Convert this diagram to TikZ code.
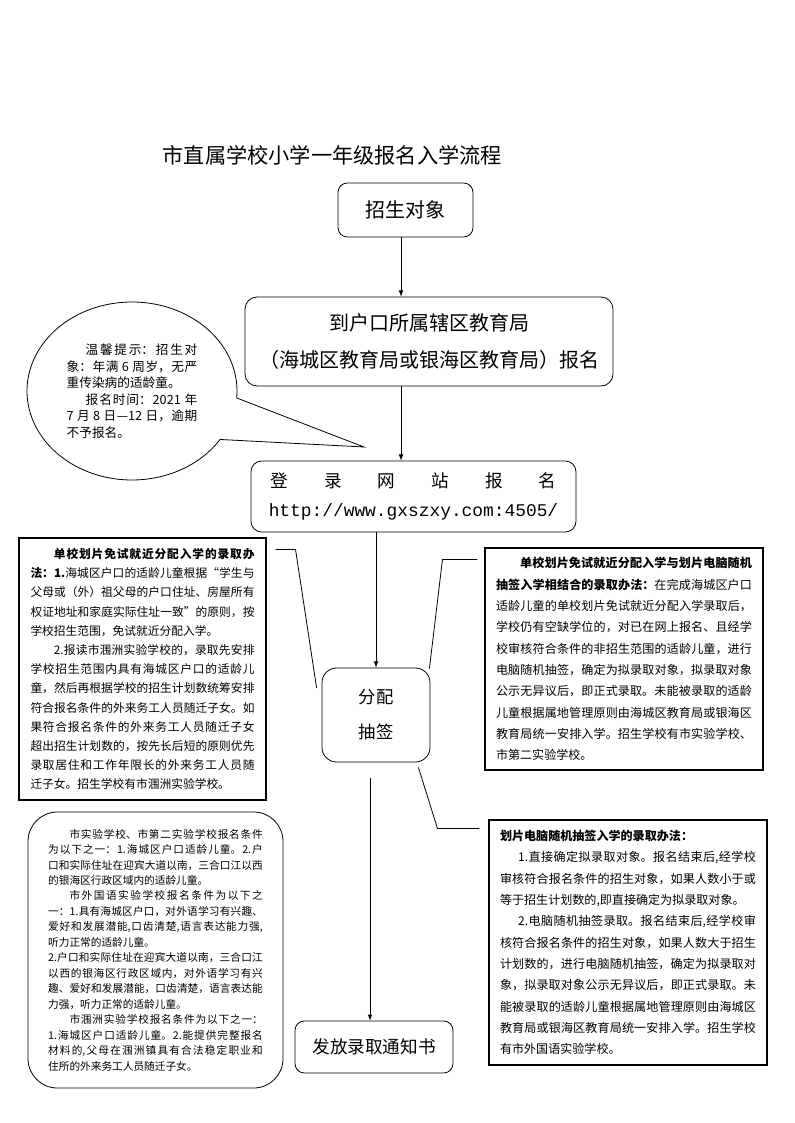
\documentclass[tikz,border=0pt]{standalone}
\usepackage{fontspec}
\setmainfont{Noto Sans CJK SC}
\newfontfamily\urlfont{Liberation Mono}
\usetikzlibrary{calc}
\XeTeXlinebreaklocale "zh"
\XeTeXlinebreakskip=0pt plus 1pt
\tolerance=10000
\hbadness=10000
\begin{document}
\begin{tikzpicture}[x=0.75bp,y=-0.75bp,
  flowbox/.style={draw,line width=.6pt,rounded corners=7bp,inner sep=0pt,align=center},
  notebox/.style={draw,line width=.8pt,inner sep=0pt,align=justify},
  flow/.style={-latex,line width=.6pt},
  link/.style={line width=.6pt}]
\fill[white] (0,0) rectangle (794,1123);
\useasboundingbox (0,0) rectangle (794,1123);

\node[anchor=west,font=\fontsize{15.9bp}{18bp}\selectfont] (title) at (158,155) {市直属学校小学一年级报名入学流程};

% flow boxes
\node[flowbox,minimum width=101.25bp,minimum height=40.5bp,font=\fontsize{15bp}{18bp}\selectfont] (zsdx) at (405.5,210) {招生对象};
\node[flowbox,rounded corners=9bp,minimum width=276bp,minimum height=66.75bp,font=\fontsize{15bp}{27.75bp}\selectfont] (hkbm) at (429,341.5) {到户口所属辖区教育局\\（海城区教育局或银海区教育局）报名};
\node[flowbox,rounded corners=8bp,minimum width=243.75bp,minimum height=53.25bp,font=\fontsize{13.2bp}{21.75bp}\selectfont] (wzbm) at (413.5,496.5) {\makebox[214bp][s]{登\hfill 录\hfill 网\hfill 站\hfill 报\hfill 名}\\{\urlfont\fontsize{13.4bp}{21.75bp}\selectfont http://www.gxszxy.com:4505/}};
\node[flowbox,rounded corners=11bp,minimum width=81bp,minimum height=70.5bp,font=\fontsize{13bp}{26.25bp}\selectfont] (fpcq) at (376,715) {分配\\抽签};
\node[flowbox,rounded corners=7bp,minimum width=118.5bp,minimum height=39bp,font=\fontsize{13.2bp}{16bp}\selectfont] (fftz) at (374,1047) {发放录取通知书};

% notes
\coordinate (tip) at (364,447);
\node[inner sep=0pt,align=justify,text width=98bp,font=\fontsize{9.5bp}{12.4bp}\selectfont] (tsell) at (132,391) {\hspace*{1.5em}温馨提示：招生对\linebreak
象：年满 6 周岁，无严\linebreak
重传染病的适龄童。\newline
\hspace*{1.5em}报名时间：2021 年\linebreak
7 月 8 日—12 日，逾期\linebreak
不予报名。};
\draw[link] ($(tsell)+(88.06,48.47)$) arc[start angle=33,end angle=364.5,x radius=105,y radius=89] -- (tip) -- cycle;

\node[notebox,minimum width=185.25bp,minimum height=196.5bp,text width=168bp,font=\fontsize{8.8bp}{14.4bp}\selectfont] (dxbox) at (142.5,669) {\hspace*{2em}\textbf{单校划片免试就近分配入学的录取办}\linebreak
\textbf{法：1.}海城区户口的适龄儿童根据“学生与\linebreak
父母或（外）祖父母的户口住址、房屋所有\linebreak
权证地址和家庭实际住址一致”的原则，按\linebreak
学校招生范围，免试就近分配入学。\newline
\hspace*{2em}2.报读市涠洲实验学校的，录取先安排\linebreak
学校招生范围内具有海城区户口的适龄儿\linebreak
童，然后再根据学校的招生计划数统筹安排\linebreak
符合报名条件的外来务工人员随迁子女。如\linebreak
果符合报名条件的外来务工人员随迁子女\linebreak
超出招生计划数的，按先长后短的原则优先\linebreak
录取居住和工作年限长的外来务工人员随\linebreak
迁子女。招生学校有市涠洲实验学校。};

\node[notebox,minimum width=208.5bp,minimum height=166.5bp,text width=192bp,font=\fontsize{9.05bp}{16bp}\selectfont] (ltbox) at (624,659) {\hspace*{2em}\textbf{单校划片免试就近分配入学与划片电脑随机}\linebreak
\textbf{抽签入学相结合的录取办法：}在完成海城区户口\linebreak
适龄儿童的单校划片免试就近分配入学录取后，\linebreak
学校仍有空缺学位的，对已在网上报名、且经学\linebreak
校审核符合条件的非招生范围的适龄儿童，进行\linebreak
电脑随机抽签，确定为拟录取对象，拟录取对象\linebreak
公示无异议后，即正式录取。未能被录取的适龄\linebreak
儿童根据属地管理原则由海城区教育局或银海区\linebreak
教育局统一安排入学。招生学校有市实验学校、\linebreak
市第二实验学校。};

\node[notebox,minimum width=208.5bp,minimum height=183.75bp,text width=192bp,font=\fontsize{9.05bp}{16bp}\selectfont] (dnbox) at (628,942.5) {\textbf{划片电脑随机抽签入学的录取办法：}\newline
\hspace*{1.5em}1.直接确定拟录取对象。报名结束后,经学校\linebreak
审核符合报名条件的招生对象，如果人数小于或\linebreak
等于招生计划数的,即直接确定为拟录取对象。\newline
\hspace*{1.5em}2.电脑随机抽签录取。报名结束后,经学校审\linebreak
核符合报名条件的招生对象，如果人数大于招生\linebreak
计划数的，进行电脑随机抽签，确定为拟录取对\linebreak
象，拟录取对象公示无异议后，即正式录取。未\linebreak
能被录取的适龄儿童根据属地管理原则由海城区\linebreak
教育局或银海区教育局统一安排入学。招生学校\linebreak
有市外国语实验学校。};

\node[notebox,line width=.6pt,rounded corners=22bp,minimum width=191.25bp,minimum height=207bp,text width=161bp,font=\fontsize{8bp}{11.6bp}\selectfont] (tjbox) at (155.5,950) {\hspace*{2em}市实验学校、市第二实验学校报名条件\linebreak
为以下之一：1.海城区户口适龄儿童。2.户\linebreak
口和实际住址在迎宾大道以南，三合口江以西\linebreak
的银海区行政区域内的适龄儿童。\newline
\hspace*{2em}市外国语实验学校报名条件为以下之\linebreak
一：1.具有海城区户口，对外语学习有兴趣、\linebreak
爱好和发展潜能,口齿清楚,语言表达能力强,\linebreak
听力正常的适龄儿童。\newline
2.户口和实际住址在迎宾大道以南，三合口江\linebreak
以西的银海区行政区域内，对外语学习有兴\linebreak
趣、爱好和发展潜能，口齿清楚，语言表达能\linebreak
力强，听力正常的适龄儿童。\newline
\hspace*{2em}市涠洲实验学校报名条件为以下之一：\linebreak
1.海城区户口适龄儿童。2.能提供完整报名\linebreak
材料的,父母在涠洲镇具有合法稳定职业和\linebreak
住所的外来务工人员随迁子女。};

% arrows
\coordinate (spine) at (401,0);
\draw[flow] (spine |- zsdx.south) -- (spine |- hkbm.north);
\draw[flow] (spine |- hkbm.south) -- (spine |- wzbm.north);
\draw[flow] (fpcq.north |- wzbm.south) -- (fpcq.north);
\coordinate (fpout) at (370,778);
\draw[flow] (fpout) -- (fpout |- fftz.north);

% links to the notes
\draw[link] ($(dxbox.north east)+(9,12)$) -- ++(20,0) -- ($(fpcq.west)+(-5,-27)$);
\draw[link] ($(ltbox.north west)+(-7,12)$) -- ++(-35,0) -- ($(fpcq.north east)+(-1,1)$);
\draw[link] ($(fpcq.south east)+(-12,5)$) -- ($(dnbox.north west)+(-51,9)$) -- ($(dnbox.north west)+(-9,9)$);
\end{tikzpicture}
\end{document}
